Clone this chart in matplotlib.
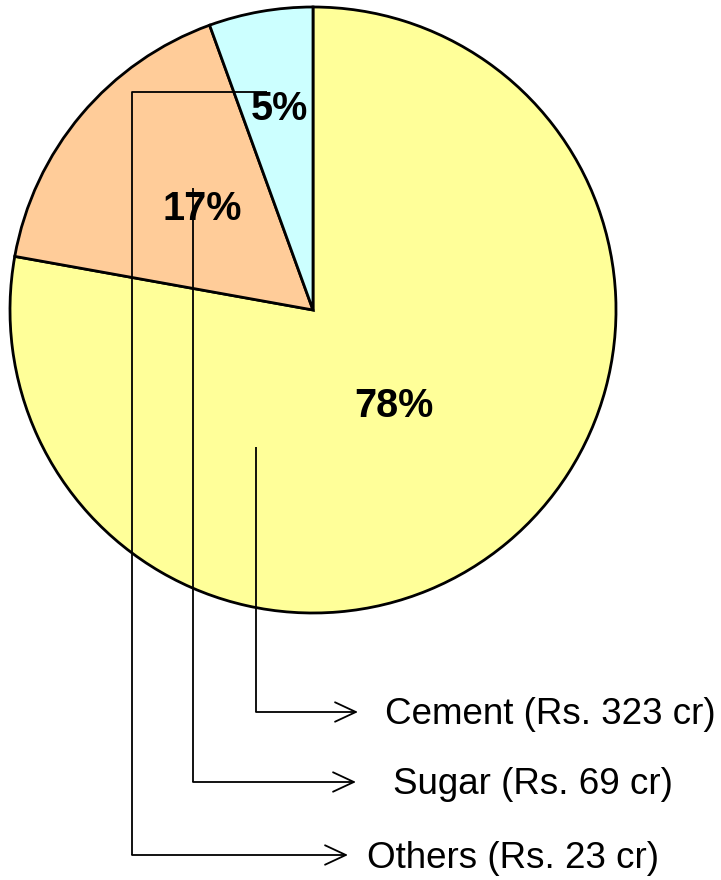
import matplotlib.pyplot as plt

# data
labels = ["Cement", "Sugar", "Others"]
amounts = [323, 69, 23]   # Rs. cr
pcts = ["78%", "17%", "5%"]
colors = ["#FFFF99", "#FFCC99", "#CCFFFF"]

plt.rcParams['font.family'] = ['Liberation Sans', 'DejaVu Sans']

fig = plt.figure(figsize=(7.21, 8.80), dpi=100)
ax = fig.add_axes([0, 0, 1, 1])

H = 880
cx, cy, r = 313, H - 310, 303

ax.pie(amounts, colors=colors, startangle=90, counterclock=False,
       center=(cx, cy), radius=r, frame=True,
       wedgeprops=dict(edgecolor='black', linewidth=2))
ax.set_xlim(0, 721)
ax.set_ylim(0, 880)
ax.set_aspect('equal')
ax.axis('off')

# percent labels (pixel positions from the top)
pct_pos = [(394, 406), (202, 209), (279, 109)]
for t, (x, y) in zip(pcts, pct_pos):
    ax.text(x, H - y, t, fontsize=28.5, fontweight='bold', ha='center', va='center', zorder=5)

# leader lines, pixel points from the top
leaders = [
    [(256, 447), (256, 712), (358, 712)],
    [(193, 188), (193, 782), (356, 782)],
    [(267, 92), (132, 92), (132, 855), (348, 855)],
]
text_x = [385, 393, 367]
for (lab, amt), pts, tx in zip(zip(labels, amounts), leaders, text_x):
    xs = [p[0] for p in pts]
    ys = [H - p[1] for p in pts]
    ax.plot(xs[:-1], ys[:-1], color='black', lw=1.3, zorder=4, solid_capstyle='butt')
    ax.annotate("", xy=(xs[-1], ys[-1]), xytext=(xs[-2], ys[-2]),
                arrowprops=dict(arrowstyle='->,head_length=1.5,head_width=0.7',
                                color='black', lw=1.3, shrinkA=0, shrinkB=0), zorder=4)
    ax.text(tx, ys[-1] - 3, f"{lab} (Rs. {amt} cr)", fontsize=26.5, ha='left', va='center')

fig.savefig("out.png", dpi=100)
